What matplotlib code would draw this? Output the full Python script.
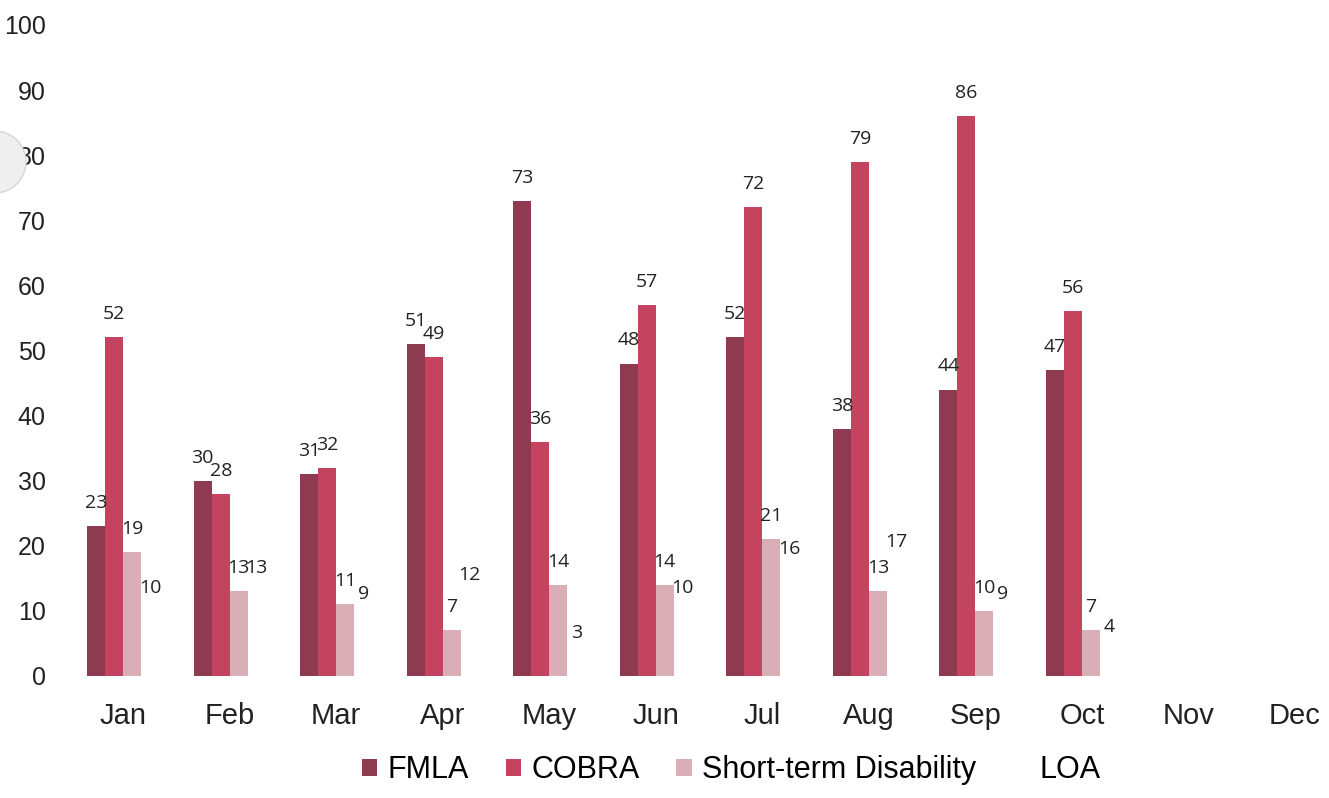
import numpy as np
import matplotlib
matplotlib.use('Agg')
import matplotlib.pyplot as plt
from matplotlib.patches import Patch, Ellipse

months = ['Jan', 'Feb', 'Mar', 'Apr', 'May', 'Jun', 'Jul', 'Aug', 'Sep', 'Oct', 'Nov', 'Dec']
fmla = [23, 30, 31, 51, 73, 48, 52, 38, 44, 47]
cobra = [52, 28, 32, 49, 36, 57, 72, 79, 86, 56]
std = [19, 13, 11, 7, 14, 14, 21, 13, 10, 7]
loa = [10, 13, 9, 12, 3, 10, 16, 17, 9, 4]

series = [
    ('FMLA', fmla, '#8e3a50'),
    ('COBRA', cobra, '#c4445f'),
    ('Short-term Disability', std, '#d9aeb7'),
    ('LOA', loa, '#ffffff'),
]

fig = plt.figure(figsize=(13.29, 7.98), dpi=100)
ax = fig.add_axes([0.049, 0.1529, 0.951, 0.8158])

width = 0.169
x = np.arange(len(fmla))
for i, (name, vals, color) in enumerate(series):
    pos = x + (i - 1.5) * width
    ax.bar(pos, vals, width=width, color=color, zorder=2)
    for px, v in zip(pos, vals):
        ax.annotate(str(v), (px, v), xytext=(0, 13), textcoords='offset points',
                    ha='center', va='baseline', fontsize=14, family='Open Sans',
                    color='#222222', zorder=3)

ax.set_xlim(-0.545, 11.32)
ax.set_ylim(0, 100)
ax.set_yticks(range(0, 101, 10))
ax.set_xticks(range(len(months)))
ax.set_xticklabels(months)
ax.tick_params(axis='both', length=0, colors='#222222')
ax.tick_params(axis='x', pad=19, labelsize=21)
ax.tick_params(axis='y', pad=14, labelsize=18)
for lab in ax.get_xticklabels() + ax.get_yticklabels():
    lab.set_family('Liberation Sans')
for s in ax.spines.values():
    s.set_visible(False)

handles = [Patch(facecolor=c, edgecolor='none', label=n) for n, _, c in series]
fig.legend(handles=handles, loc='center', bbox_to_anchor=(0.55, 0.035), ncol=4,
           frameon=False, prop={'family': 'Liberation Sans', 'size': 22},
           handlelength=0.5, handleheight=0.5, handletextpad=0.35, columnspacing=1.2)

# scanner artifact at left edge
fig.patches.append(Ellipse((-5 / 1329, 1 - 162 / 798), 62 / 1329, 62 / 798,
                           transform=fig.transFigure, facecolor='#efefef',
                           edgecolor='#d6d6d6', lw=1, zorder=5))

fig.savefig('out.png', dpi=100)
